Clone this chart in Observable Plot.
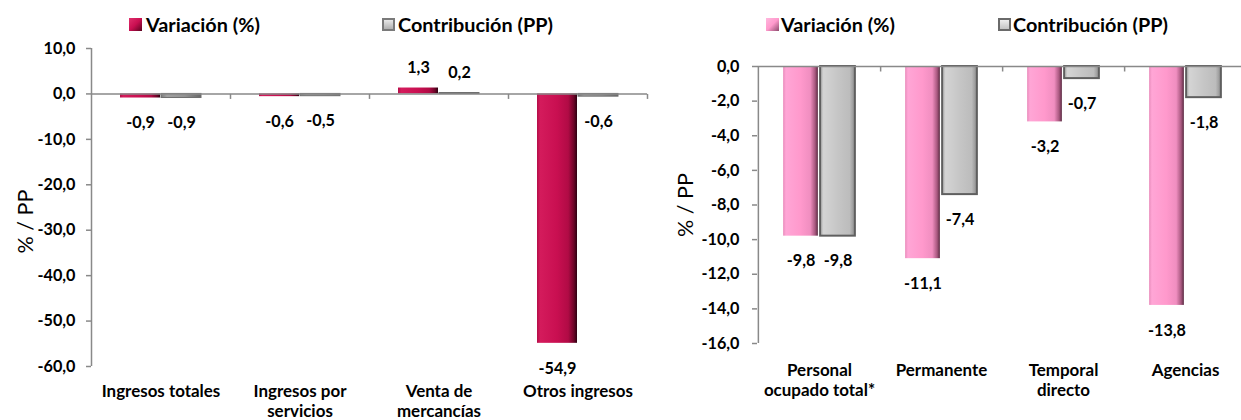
<!DOCTYPE html>
<html><head><meta charset="utf-8">
<script src="https://cdn.jsdelivr.net/npm/d3@7"></script>
<script src="https://cdn.jsdelivr.net/npm/@observablehq/plot@0.6"></script>
<style>
html,body{margin:0;padding:0;background:#fff;overflow:hidden;}
#wrap{position:relative;width:1241px;height:420px;overflow:hidden;font-family:Lato,"Open Sans",sans-serif;}
.chart{position:absolute;top:0;}
.legtxt{position:absolute;font-weight:bold;color:#000;white-space:nowrap;z-index:2;line-height:20px;height:20px;}
.sw{position:absolute;width:13px;height:13px;box-sizing:border-box;z-index:2;}
</style></head><body><div id="wrap"></div>
<script>
// ---------- data ----------
const seriesNames = ["Variación (%)", "Contribución (PP)"];
const axisTitle = "% / PP";

const categoriesIngresos = ["Ingresos totales", "Ingresos por\nservicios", "Venta de\nmercancías", "Otros ingresos"];
const variacionIngresos = [-0.9, -0.6, 1.3, -54.9];
const contribucionIngresos = [-0.9, -0.5, 0.2, -0.6];
const ticksIngresos = [10, 0, -10, -20, -30, -40, -50, -60];

const categoriesPersonal = ["Personal\nocupado total*", "Permanente", "Temporal\ndirecto", "Agencias"];
const variacionPersonal = [-9.8, -11.1, -3.2, -13.8];
const contribucionPersonal = [-9.8, -7.4, -0.7, -1.8];
const ticksPersonal = [0, -2, -4, -6, -8, -10, -12, -14, -16];

// ---------- helpers ----------
const FONT = "Lato";
const fmt = v => d3.format(".1f")(v).replace("−", "-").replace(".", ",");
const ctx = document.createElement("canvas").getContext("2d");
function fit(text, target, weight) {
  ctx.font = `${weight} 100px ${FONT}`;
  return 100 * target / ctx.measureText(text).width;
}
const fsTick = fit("-60,0", 38, "bold");
const fsCat = fit("Otros ingresos", 110, "bold");
const fsLeg = fit("Contribución (PP)", 155, "bold");
const fsTitle = fit("% / PP", 64, "normal");
const axisColor = "#898989";
const tickSymbol = {draw(c) { c.moveTo(0, 0); c.lineTo(0, 5); }};

const gradients = {
  gVarL: [[0, "#b30d47"], [0.08, "#d41b5c"], [0.5, "#c90f51"], [0.78, "#b10b45"], [0.92, "#6d0528"], [1, "#2e0011"]],
  gConL: [[0, "#7a7a7a"], [0.15, "#a0a0a0"], [0.6, "#929292"], [1, "#686868"]],
  gVarR: [[0, "#e98bbb"], [0.08, "#ffa6d6"], [0.5, "#ff99cc"], [0.78, "#f08ec0"], [0.92, "#a8587f"], [1, "#5a2a42"]],
  gConR: [[0, "#a9a9a9"], [0.1, "#d4d4d4"], [0.5, "#c6c6c6"], [0.85, "#bcbcbc"], [1, "#8d8d8d"]]
};

function addDefs(svg, ids) {
  const defs = d3.select(svg).insert("defs", ":first-child");
  for (const id of ids) {
    const g = defs.append("linearGradient").attr("id", id).attr("x1", "0").attr("x2", "1").attr("y1", "0").attr("y2", "0");
    for (const [o, c] of gradients[id]) g.append("stop").attr("offset", o).attr("stop-color", c);
  }
}

function drawChart(cfg) {
  const {cats, vari, cont, ticks, domain, left, width, height, margin, bw, gapMid, fills, strokes, strokeWidths, tickPadding, titleDx, titleDy, catDy, ids} = cfg;
  const step = (width - margin.left - margin.right) / cats.length;
  const varRows = cats.map((c, i) => ({cat: c, value: vari[i]}));
  const conRows = cats.map((c, i) => ({cat: c, value: cont[i]}));
  const off = gapMid / 2 + bw / 2;
  const labelMarks = (rows, dx) => [
    Plot.text(rows.filter(d => d.value < 0), {x: "cat", y: "value", text: d => fmt(d.value), dx, dy: 25, fontSize: fsTick, fontWeight: "bold", fill: "#000"}),
    Plot.text(rows.filter(d => d.value >= 0), {x: "cat", y: "value", text: d => fmt(d.value), dx, dy: -20, fontSize: fsTick, fontWeight: "bold", fill: "#000"})
  ];
  const svg = Plot.plot({
    width, height,
    marginLeft: margin.left, marginRight: margin.right, marginTop: margin.top, marginBottom: margin.bottom,
    style: {fontFamily: FONT, background: "transparent", overflow: "visible"},
    x: {type: "band", domain: cats, paddingInner: 0, paddingOuter: 0, axis: null},
    y: {domain, axis: null},
    marks: [
      Plot.barY(varRows, {x: "cat", y: "value", fill: fills[0], stroke: strokes[0], strokeWidth: strokeWidths[0],
        insetLeft: step / 2 - gapMid / 2 - bw, insetRight: step / 2 + gapMid / 2}),
      Plot.barY(conRows, {x: "cat", y: "value", fill: fills[1], stroke: strokes[1], strokeWidth: strokeWidths[1],
        insetLeft: step / 2 + gapMid / 2, insetRight: step / 2 - gapMid / 2 - bw}),
      Plot.ruleY([0], {stroke: axisColor, strokeWidth: 1.5}),
      Plot.ruleX([cats[0]], {dx: -step / 2, y1: domain[0], y2: domain[1], stroke: axisColor, strokeWidth: 1.5}),
      Plot.dot(cats, {x: d => d, y: () => 0, dx: step / 2, symbol: tickSymbol, stroke: axisColor, strokeWidth: 1.5, fill: "none"}),
      Plot.axisY({ticks, tickFormat: fmt, tickSize: 5, tickPadding, stroke: axisColor, strokeWidth: 1.5, fill: "#000", fontSize: fsTick, fontWeight: "bold", label: null}),
      ...labelMarks(varRows, -off),
      ...labelMarks(conRows, off),
      Plot.text(cats, {x: d => d, frameAnchor: "bottom", lineAnchor: "top", dy: catDy, fontSize: fsCat, fontWeight: "bold", lineHeight: 1.2, fill: "#000"}),
      Plot.text([axisTitle], {frameAnchor: "left", textAnchor: "middle", lineAnchor: "middle", rotate: -90, dx: titleDx, dy: titleDy, fontSize: fsTitle, fontWeight: "normal", fill: "#000"})
    ]
  });
  addDefs(svg, ids);
  svg.classList.add("chart");
  svg.style.left = left + "px";
  document.getElementById("wrap").appendChild(svg);
}

drawChart({
  cats: categoriesIngresos, vari: variacionIngresos, cont: contribucionIngresos, ticks: ticksIngresos,
  domain: [-60, 10], left: 0, width: 660, height: 420,
  margin: {left: 91, right: 13, top: 48, bottom: 54},
  bw: 40, gapMid: 1,
  fills: ["url(#gVarL)", "url(#gConL)"], strokes: ["none", "#6e6e6e"], strokeWidths: [0, 1],
  tickPadding: 11, titleDx: -65, titleDy: 14, catDy: 16, ids: ["gVarL", "gConL"]
});
drawChart({
  cats: categoriesPersonal, vari: variacionPersonal, cont: contribucionPersonal, ticks: ticksPersonal,
  domain: [-16, 0], left: 660, width: 600, height: 420,
  margin: {left: 97, right: 14, top: 66, bottom: 77},
  bw: 35, gapMid: 2,
  fills: ["url(#gVarR)", "url(#gConR)"], strokes: ["none", "#5f5f5f"], strokeWidths: [0, 2],
  tickPadding: 13, titleDx: -71, titleDy: 0, catDy: 18, ids: ["gVarR", "gConR"]
});

// ---------- legends ----------
const wrap = document.getElementById("wrap");
const legendItems = [
  {x: 129, tx: 146, name: seriesNames[0], bg: "linear-gradient(135deg,#e0306d 0%,#c90f51 50%,#5a0420 100%)", border: "none"},
  {x: 382, tx: 398, name: seriesNames[1], bg: "linear-gradient(180deg,#e8e8e8 0%,#b0b0b0 100%)", border: "2px solid #7a7a7a"},
  {x: 766, tx: 781, name: seriesNames[0], bg: "linear-gradient(135deg,#ffb8de 0%,#ff99cc 50%,#8c4a6c 100%)", border: "none"},
  {x: 998, tx: 1013, name: seriesNames[1], bg: "linear-gradient(180deg,#eeeeee 0%,#c4c4c4 100%)", border: "2px solid #6a6a6a"}
];
for (const it of legendItems) {
  const sw = document.createElement("div");
  sw.className = "sw";
  sw.style.left = it.x + "px"; sw.style.top = "18px";
  sw.style.background = it.bg; sw.style.border = it.border;
  wrap.appendChild(sw);
  const t = document.createElement("div");
  t.className = "legtxt";
  t.style.left = it.tx + "px"; t.style.top = "14px";
  t.style.fontSize = fsLeg + "px";
  t.textContent = it.name;
  wrap.appendChild(t);
}
</script></body></html>
